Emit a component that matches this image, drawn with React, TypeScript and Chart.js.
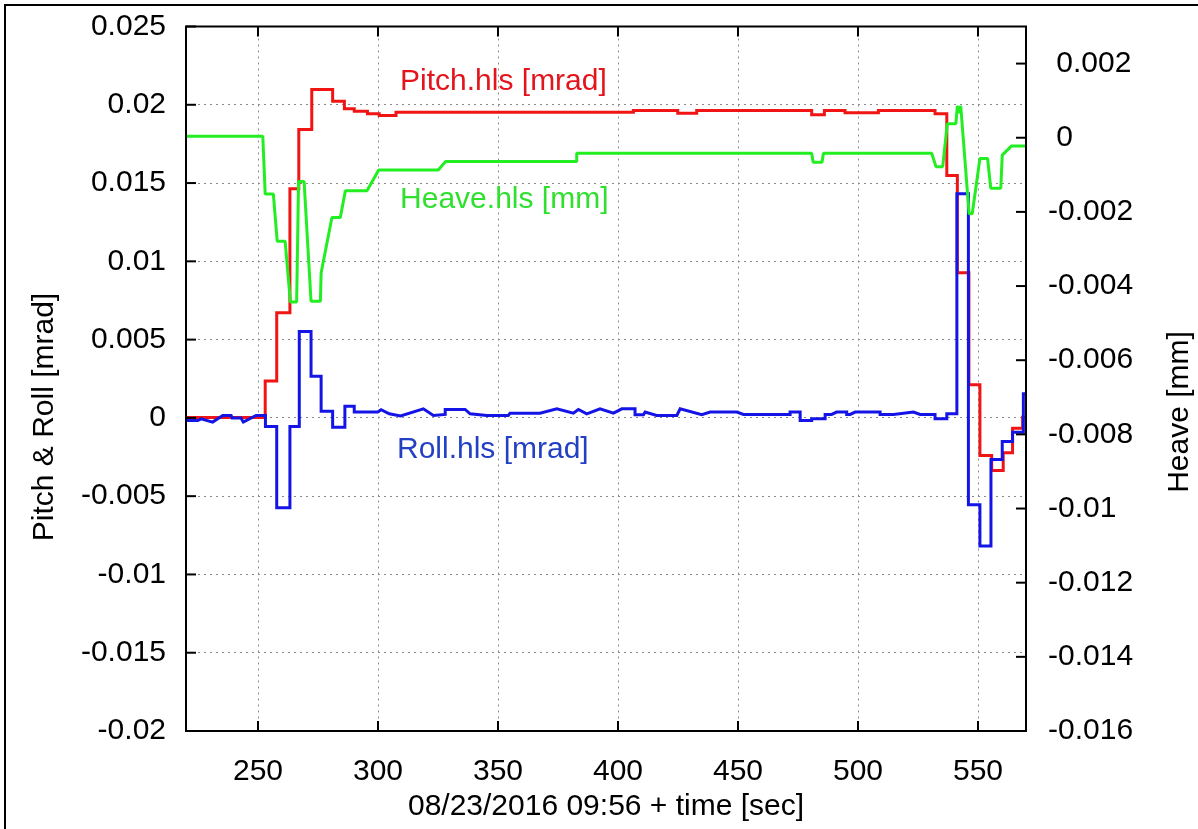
import React, { useEffect, useRef } from "react";
import { Chart, registerables } from "chart.js";

Chart.register(...registerables);

// ---------- data ----------
const X_TICKS = [250, 300, 350, 400, 450, 500, 550];
const Y_TICKS = [-0.02, -0.015, -0.01, -0.005, 0, 0.005, 0.01, 0.015, 0.02, 0.025];
const Y2_TICKS = [-0.016, -0.014, -0.012, -0.01, -0.008, -0.006, -0.004, -0.002, 0, 0.002];

// Pitch (step series: value becomes v at time t)
const PITCH_T = [220, 253.0, 257.8, 263.3, 267.0, 272.4, 281.1, 286.0, 290.1, 295.6, 300.5, 307.5, 406.4, 424.9, 432.8, 480.7, 486.0, 494.6, 508.5, 532.1, 537.0, 541.4, 546.2, 550.8, 555.7, 560.5, 564.4, 568.6, 570];
const PITCH_V = [0.00003, 0.00235, 0.00671, 0.01464, 0.01842, 0.02098, 0.02023, 0.01974, 0.01959, 0.01942, 0.01931, 0.01953, 0.01964, 0.01946, 0.01964, 0.01936, 0.01964, 0.01949, 0.01964, 0.01942, 0.01548, 0.00927, 0.00211, -0.0024, -0.00336, -0.00223, -0.00066, 0.00004, 0.00004];

// Roll
const ROLL_T = [220, 224.9, 226.3, 231.1, 235.3, 238.8, 239.2, 242.9, 243.9, 249.2, 253.1, 253.1, 257.8, 257.8, 263.3, 263.3, 267.2, 267.2, 272.1, 272.1, 276.3, 276.3, 281.1, 281.1, 286.2, 286.2, 290.1, 290.1, 299.9, 301.3, 304.7, 309.4, 318.9, 323.1, 328.0, 328.0, 336.3, 338.4, 345.3, 354.3, 355.0, 367.5, 374.5, 381.4, 383.5, 387.0, 392.5, 398.1, 401.6, 407.1, 407.1, 410.6, 411.3, 416.1, 424.5, 425.9, 434.9, 438.4, 449.5, 452.3, 471.7, 471.7, 475.9, 475.9, 480.7, 480.7, 486.3, 486.3, 489.0, 491.1, 495.3, 495.3, 496.7, 498.8, 509.2, 509.2, 514.8, 523.1, 525.9, 532.1, 532.1, 537.0, 537.0, 541.2, 541.2, 546.0, 546.0, 550.8, 550.8, 555.4, 555.4, 560.1, 560.1, 564.4, 564.4, 568.9, 568.9, 570];
const ROLL_V = [-0.00017, -0.00017, -0.00006, -0.00027, 0.00015, 0.00015, 0.0, 0.0, -0.00027, 0.00015, 0.00015, -0.00055, -0.00055, -0.00574, -0.00574, -0.00055, -0.00055, 0.00552, 0.00552, 0.00266, 0.00266, 0.00043, 0.00043, -0.00059, -0.00059, 0.00075, 0.00075, 0.00037, 0.00037, 0.00052, 0.00026, 0.00012, 0.00058, 0.00015, 0.00022, 0.00054, 0.00054, 0.00026, 0.00015, 0.00015, 0.0003, 0.0003, 0.00058, 0.0003, 0.00054, 0.00026, 0.00058, 0.0003, 0.00058, 0.00058, 0.0002, 0.0002, 0.00037, 0.00015, 0.00015, 0.00058, 0.0002, 0.00037, 0.00037, 0.00022, 0.00022, 0.00037, 0.00037, -0.00017, -0.00017, -0.00006, -0.00006, 0.00022, 0.00022, 0.00037, 0.00037, 0.00022, 0.00022, 0.00037, 0.00037, 0.00022, 0.00022, 0.00037, 0.00022, 0.00022, -0.00006, -0.00006, 0.00026, 0.00026, 0.01431, 0.01431, -0.00555, -0.00555, -0.00819, -0.00819, -0.00266, -0.00266, -0.00151, -0.00151, -0.00091, -0.00091, 0.00154, 0.00154];

// Heave (right axis)
const HEAVE_T = [220, 252.0, 253.0, 256.4, 258.0, 261.3, 263.5, 266.1, 266.9, 269.2, 272.1, 276.0, 276.3, 280.8, 284.3, 286.4, 295.4, 300.3, 325.1, 328.2, 382.8, 382.8, 480.7, 481.3, 485.0, 485.6, 530.7, 532.5, 535.3, 537.2, 540.8, 541.4, 542.1, 542.8, 546.3, 547.6, 550.8, 554.0, 555.3, 559.5, 560.1, 564.0, 570];
const HEAVE_V = [0.00004, 0.00004, -0.00152, -0.00152, -0.00279, -0.00279, -0.00443, -0.00443, -0.00118, -0.00118, -0.00441, -0.00441, -0.00365, -0.00215, -0.00215, -0.00143, -0.00143, -0.00087, -0.00087, -0.00064, -0.00064, -0.00042, -0.00042, -0.00066, -0.00066, -0.00042, -0.00042, -0.00078, -0.00078, 0.00038, 0.00038, 0.00086, 0.00066, 0.00086, -0.00205, -0.00205, -0.00056, -0.00056, -0.00136, -0.00136, -0.00047, -0.00022, -0.00022];

// inline series labels, anchored in data coordinates (time, left-axis value)
const SERIES_LABELS = [
  { text: "Pitch.hls [mrad]", t: 309.2, v: 0.02145, color: "#e3141b" },
  { text: "Heave.hls [mm]", t: 309.2, v: 0.01392, color: "#2fe02f" },
  { text: "Roll.hls [mrad]", t: 307.9, v: -0.00205, color: "#2340c4" },
];

const FONT_FAMILY = '"Liberation Sans", Arimo, Arial, sans-serif';

const pts = (ts: number[], vs: number[]) => ts.map((t, i) => ({ x: t, y: vs[i] }));
const fmt = (v: number) => String(+v.toFixed(4));

const decorations = {
  id: "decorations",
  beforeDraw(chart: any) {
    const { ctx } = chart;
    ctx.save();
    ctx.fillStyle = "#fff";
    ctx.fillRect(0, 0, chart.width, chart.height);
    ctx.restore();
  },
  afterDatasetsDraw(chart: any) {
    const { ctx, chartArea: a, scales } = chart;
    ctx.save();
    // frame
    ctx.strokeStyle = "#000";
    ctx.lineWidth = 2;
    ctx.strokeRect(a.left, a.top, a.right - a.left, a.bottom - a.top);
    const seg = (x1: number, y1: number, x2: number, y2: number) => {
      ctx.beginPath();
      ctx.moveTo(x1, y1);
      ctx.lineTo(x2, y2);
      ctx.stroke();
    };
    const TL = 10;
    for (const v of X_TICKS) {
      const px = scales.x.getPixelForValue(v);
      seg(px, a.bottom, px, a.bottom - TL);
      seg(px, a.top, px, a.top + TL);
    }
    for (const v of Y_TICKS) {
      const py = scales.y.getPixelForValue(v);
      seg(a.left, py, a.left + TL, py);
    }
    for (const v of Y2_TICKS) {
      const py = scales.y2.getPixelForValue(v);
      seg(a.right, py, a.right - TL, py);
    }
    // inline labels
    ctx.font = `30px ${FONT_FAMILY}`;
    ctx.textBaseline = "middle";
    ctx.textAlign = "left";
    for (const l of SERIES_LABELS) {
      ctx.fillStyle = l.color;
      ctx.fillText(l.text, scales.x.getPixelForValue(l.t), scales.y.getPixelForValue(l.v));
    }
    // axis titles (vertical, reading bottom-to-top)
    ctx.fillStyle = "#000";
    ctx.textAlign = "center";
    ctx.font = `30px ${FONT_FAMILY}`;
    ctx.save();
    ctx.translate(45, 417);
    ctx.rotate(-Math.PI / 2);
    ctx.fillText("Pitch & Roll [mrad]", 0, 0);
    ctx.restore();
    ctx.save();
    ctx.translate(1180, 412);
    ctx.rotate(-Math.PI / 2);
    ctx.fillText("Heave [mm]", 0, 0);
    ctx.restore();
    // outer border
    ctx.lineWidth = 2;
    ctx.strokeRect(5, 5, chart.width + 10, chart.height + 10);
    ctx.restore();
  },
};

export default function App() {
  const ref = useRef<HTMLCanvasElement | null>(null);
  useEffect(() => {
    if (!ref.current) return;
    const tickFont = { family: FONT_FAMILY, size: 30 };
    const chart = new Chart(ref.current, {
      type: "line",
      data: {
        datasets: [
          {
            label: "Heave.hls [mm]",
            data: pts(HEAVE_T, HEAVE_V),
            yAxisID: "y2",
            borderColor: "#22ee22",
            borderWidth: 3,
            borderJoinStyle: "bevel",
            pointRadius: 0,
            order: 0,
          },
          {
            label: "Roll.hls [mrad]",
            data: pts(ROLL_T, ROLL_V),
            yAxisID: "y",
            borderColor: "#1414e6",
            borderWidth: 3,
            pointRadius: 0,
            order: 1,
          },
          {
            label: "Pitch.hls [mrad]",
            data: pts(PITCH_T, PITCH_V),
            yAxisID: "y",
            borderColor: "#f01414",
            borderWidth: 3,
            pointRadius: 0,
            stepped: "before",
            order: 2,
          },
        ],
      },
      options: {
        responsive: false,
        animation: false,
        events: [],
        layout: { padding: { top: 26.5, left: 0, right: 0, bottom: 0 } },
        plugins: { legend: { display: false }, tooltip: { enabled: false } },
        scales: {
          x: {
            type: "linear",
            position: "bottom",
            min: 220,
            max: 570,
            afterBuildTicks: (s: any) => {
              s.ticks = X_TICKS.map((v) => ({ value: v }));
            },
            afterFit: (s: any) => {
              s.height = 829 - 731;
            },
            ticks: {
              color: "#000",
              font: tickFont,
              padding: 23,
              maxRotation: 0,
              autoSkip: false,
              callback: (v: any) => String(v),
            },
            grid: { color: "#8a8a8a", lineWidth: 1, drawTicks: false },
            border: { display: false, dash: [2, 4] },
            title: {
              display: true,
              text: "08/23/2016 09:56 + time [sec]",
              color: "#000",
              font: { family: FONT_FAMILY, size: 30 },
              padding: { top: 0, bottom: 4 },
            },
          },
          y: {
            type: "linear",
            position: "left",
            min: -0.02,
            max: 0.025,
            afterBuildTicks: (s: any) => {
              s.ticks = Y_TICKS.map((v) => ({ value: v }));
            },
            afterFit: (s: any) => {
              s.width = 186;
            },
            ticks: {
              color: "#000",
              font: tickFont,
              padding: 0,
              autoSkip: false,
              callback: (v: any) => fmt(v),
            },
            grid: {
              color: "#8a8a8a",
              lineWidth: 1,
              drawTicks: true,
              tickLength: 20,
              tickColor: "rgba(0,0,0,0)",
            },
            border: { display: false, dash: [2, 4] },
          },
          y2: {
            type: "linear",
            position: "right",
            min: -0.016,
            max: 0.003,
            afterBuildTicks: (s: any) => {
              s.ticks = Y2_TICKS.map((v) => ({ value: v }));
            },
            afterFit: (s: any) => {
              s.width = 1198 - 1026;
            },
            ticks: {
              color: "#000",
              font: tickFont,
              padding: 0,
              autoSkip: false,
              callback: (v: any) => (v >= 0 ? " " : "") + fmt(v),
            },
            grid: {
              drawOnChartArea: false,
              drawTicks: true,
              tickLength: 22,
              tickColor: "rgba(0,0,0,0)",
            },
            border: { display: false },
          },
        },
      },
      plugins: [decorations],
    } as any);
    return () => chart.destroy();
  }, []);
  return (
    <div style={{ width: 1198, height: 829, position: "relative" }}>
      <style>{`body{margin:0;}`}</style>
      <canvas ref={ref} width={1198} height={829} style={{ display: "block" }} />
    </div>
  );
}
